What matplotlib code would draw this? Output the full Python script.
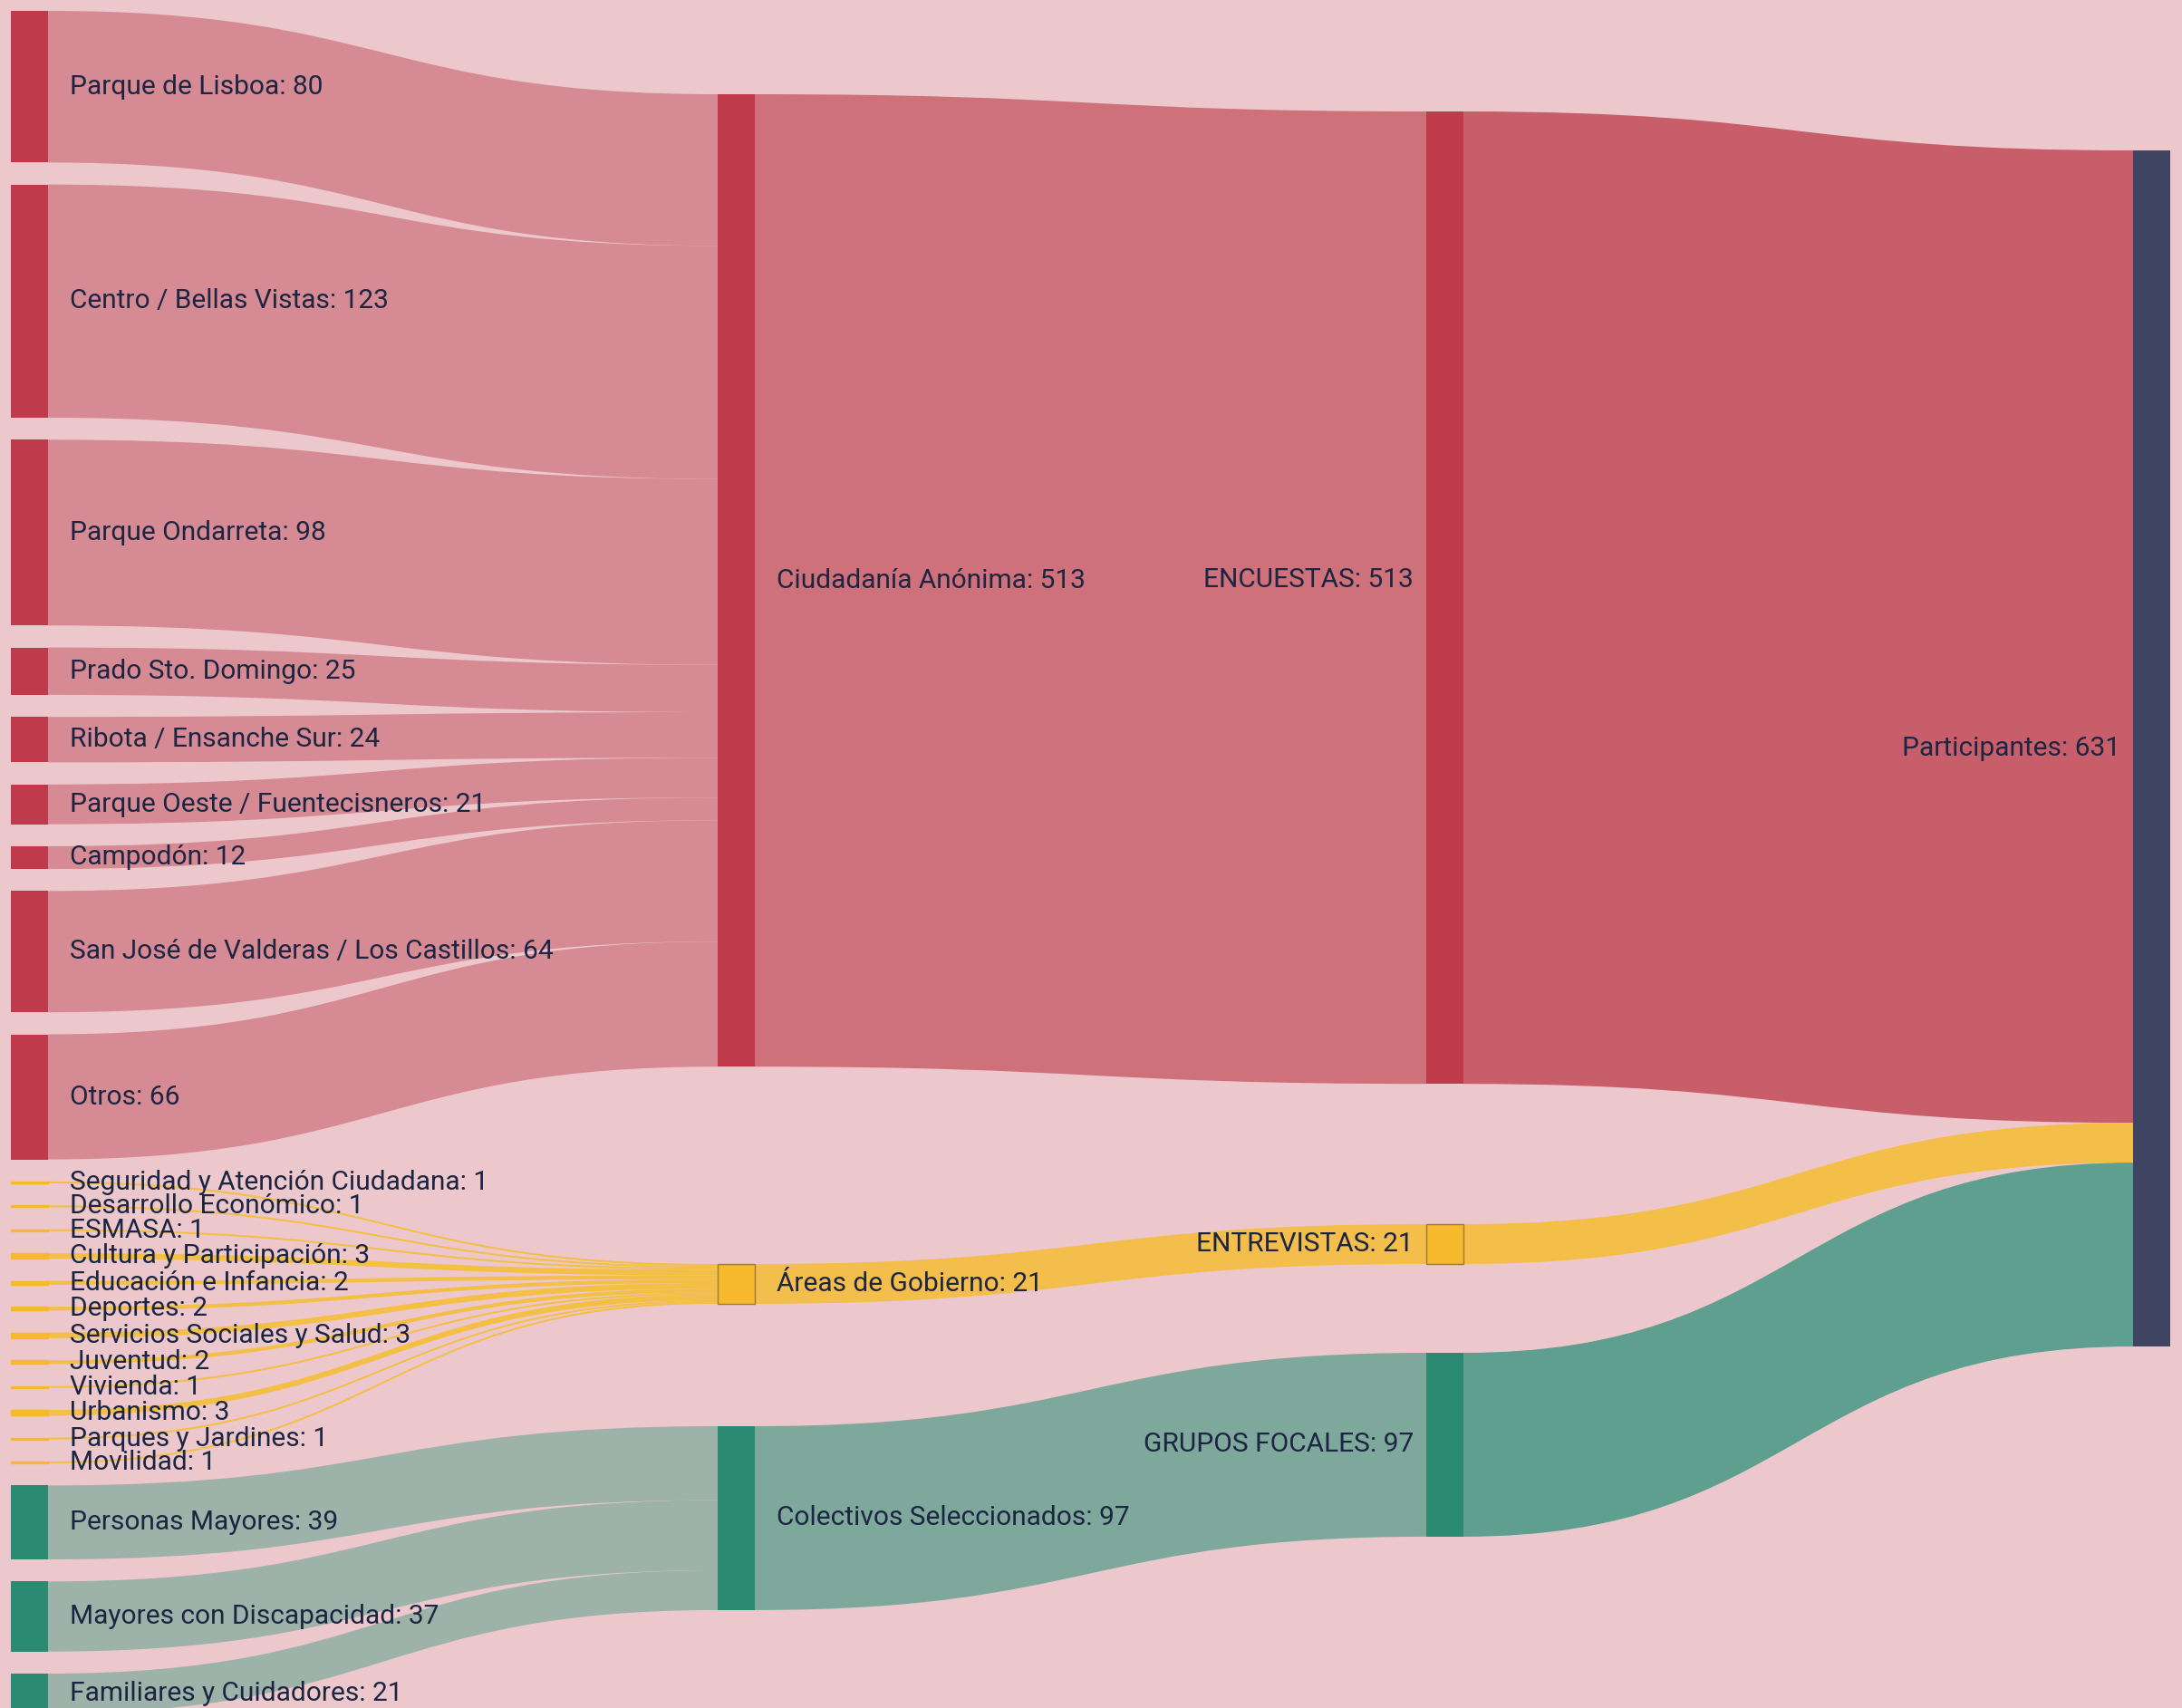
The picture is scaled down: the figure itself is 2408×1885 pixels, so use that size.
import matplotlib.pyplot as plt
from matplotlib.path import Path
from matplotlib.patches import PathPatch, Rectangle

# ---- data ----
barrios = ["Parque de Lisboa", "Centro / Bellas Vistas", "Parque Ondarreta",
           "Prado Sto. Domingo", "Ribota / Ensanche Sur",
           "Parque Oeste / Fuentecisneros", "Campodón",
           "San José de Valderas / Los Castillos", "Otros"]
barrios_n = [80, 123, 98, 25, 24, 21, 12, 64, 66]

areas = ["Seguridad y Atención Ciudadana", "Desarrollo Económico", "ESMASA",
         "Cultura y Participación", "Educación e Infancia", "Deportes",
         "Servicios Sociales y Salud", "Juventud", "Vivienda", "Urbanismo",
         "Parques y Jardines", "Movilidad"]
areas_n = [1, 1, 1, 3, 2, 2, 3, 2, 1, 3, 1, 1]

colectivos = ["Personas Mayores", "Mayores con Discapacidad", "Familiares y Cuidadores"]
colectivos_n = [39, 37, 21]

grupos = ["Ciudadanía Anónima", "Áreas de Gobierno", "Colectivos Seleccionados"]
metodos = ["ENCUESTAS", "ENTREVISTAS", "GRUPOS FOCALES"]
total = "Participantes"

# links: (source, target, value, stage)
links = []
for name, n in zip(barrios, barrios_n):
    links.append((name, grupos[0], n, "red1"))
for name, n in zip(areas, areas_n):
    links.append((name, grupos[1], n, "yel1"))
for name, n in zip(colectivos, colectivos_n):
    links.append((name, grupos[2], n, "grn1"))
g_tot = [sum(barrios_n), sum(areas_n), sum(colectivos_n)]
for g, m, n, st in zip(grupos, metodos, g_tot, ["red2", "yel2", "grn2"]):
    links.append((g, m, n, st))
for m, n, st in zip(metodos, g_tot, ["red3", "yel3", "grn3"]):
    links.append((m, total, n, st))

# ---- layout / style ----
W, H = 2408, 1885
K = 2.092        # px per participant
PAD = 24.3
NODE_W = 41
col_x = [12, 792, 1574, 2354]
# top of nodes in columns 2-4 (px), like plotly node.y
fixed_top = {"Ciudadanía Anónima": 104, "Áreas de Gobierno": 1395,
             "Colectivos Seleccionados": 1574, "ENCUESTAS": 123,
             "ENTREVISTAS": 1351, "GRUPOS FOCALES": 1493, "Participantes": 166}
label_dy = {"ENCUESTAS": -20}

link_col = {"red1": "#d68a93", "red2": "#cf717b", "red3": "#c95e6b",
            "yel1": "#f4bf45", "yel2": "#f3be4c", "yel3": "#f4bf48",
            "grn1": "#9db2a8", "grn2": "#7fa89d", "grn3": "#5f9f90"}
RED, YEL, GRN, NAVY = "#bf3a4a", "#f6b92c", "#2a8b72", "#3e4462"
TXT = "#1c2541"

sources = set(l[0] for l in links)
node_val = {}
for s, t, v, _ in links:
    node_val[s] = node_val.get(s, 0) + v
for s, t, v, _ in links:
    if t not in sources:
        node_val[t] = node_val.get(t, 0) + v

nodes = {}
y = 12
for name in barrios + areas + colectivos:
    h = node_val[name] * K
    nodes[name] = dict(x=col_x[0], y=y, h=h, col=0)
    y += h + PAD
for c, names in [(1, grupos), (2, metodos), (3, [total])]:
    for name in names:
        nodes[name] = dict(x=col_x[c], y=fixed_top[name], h=node_val[name] * K, col=c)

node_color = {}
for name in barrios + [grupos[0], metodos[0]]:
    node_color[name] = RED
for name in areas + [grupos[1], metodos[1]]:
    node_color[name] = YEL
for name in colectivos + [grupos[2], metodos[2]]:
    node_color[name] = GRN
node_color[total] = NAVY

fig = plt.figure(figsize=(W / 100, H / 100), dpi=100)
fig.patch.set_facecolor("#ecc8cd")
ax = fig.add_axes([0, 0, 1, 1])
ax.set_xlim(0, W)
ax.set_ylim(H, 0)
ax.axis("off")

# links, stacked in source order
out_off = {n: 0.0 for n in nodes}
in_off = {n: 0.0 for n in nodes}
for s, t, v, st in sorted(links, key=lambda l: nodes[l[0]]["y"]):
    w = v * K
    sn, tn = nodes[s], nodes[t]
    ys0 = sn["y"] + out_off[s]
    yt0 = tn["y"] + in_off[t]
    out_off[s] += w
    in_off[t] += w
    x0 = sn["x"] + NODE_W
    x1 = tn["x"]
    xm = (x0 + x1) / 2
    verts = [(x0, ys0), (xm, ys0), (xm, yt0), (x1, yt0),
             (x1, yt0 + w), (xm, yt0 + w), (xm, ys0 + w), (x0, ys0 + w), (x0, ys0)]
    codes = [Path.MOVETO, Path.CURVE4, Path.CURVE4, Path.CURVE4,
             Path.LINETO, Path.CURVE4, Path.CURVE4, Path.CURVE4, Path.CLOSEPOLY]
    ax.add_patch(PathPatch(Path(verts, codes), facecolor=link_col[st],
                           edgecolor="none", lw=0, zorder=1))

for name, nd in nodes.items():
    if node_color[name] == YEL:
        ec = "#9c7b3a" if nd["col"] > 0 else YEL
    else:
        ec = "none"
    ax.add_patch(Rectangle((nd["x"], nd["y"]), NODE_W, nd["h"],
                           facecolor=node_color[name], edgecolor=ec, lw=1, zorder=2))
    label = f"{name}: {node_val[name]}"
    cy = nd["y"] + nd["h"] / 2 + label_dy.get(name, 0)
    if nd["col"] < 2:
        ax.text(nd["x"] + NODE_W + 24, cy, label, ha="left", va="center",
                fontsize=21.5, family="Roboto", color=TXT, zorder=3)
    else:
        ax.text(nd["x"] - 14, cy, label, ha="right", va="center",
                fontsize=21.5, family="Roboto", color=TXT, zorder=3)

fig.savefig("out.png", dpi=100, facecolor=fig.get_facecolor())
